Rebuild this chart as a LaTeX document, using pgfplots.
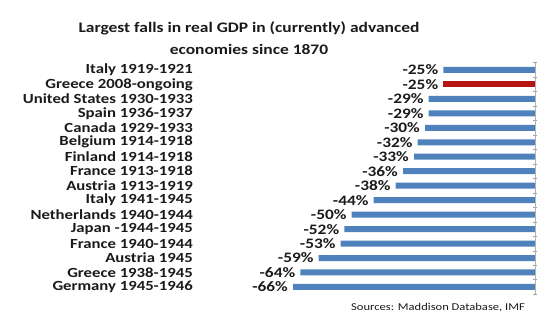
\documentclass[border=0pt]{standalone}
\usepackage{fontspec}
\setmainfont{Carlito}
\newfontfamily\catfont{Carlito}[FakeStretch=1.2]
\usepackage{pgfplots}
\pgfplotsset{compat=1.18}
\definecolor{barblue}{HTML}{4F81BD}
\definecolor{barred}{HTML}{B81414}
\definecolor{txt}{HTML}{1A1A1A}
\begin{document}
\begin{tikzpicture}
\useasboundingbox (0,0) rectangle (550bp,327bp);
\node[anchor=base,font=\catfont\bfseries\fontsize{14.6}{18}\selectfont,text=txt] at (249bp,294bp) {Largest falls in real GDP in (currently) advanced};
\node[anchor=base,font=\catfont\bfseries\fontsize{14.6}{18}\selectfont,text=txt] at (249bp,272bp) {economies since 1870};
\begin{axis}[
  at={(197bp,32.8bp)}, anchor=south west,
  scale only axis, width=338bp, height=231.5bp,
  xbar, bar width=6bp, bar shift=0pt,
  xmin=-92.2, xmax=0, ymin=-0.5, ymax=15.5,
  y dir=reverse, clip=false,
  axis line style={draw=none},
  xtick=\empty,
  ytick={0,...,15},
  yticklabels={Italy 1919-1921, Greece 2008-ongoing, United States 1930-1933, Spain 1936-1937, Canada 1929-1933, Belgium 1914-1918, Finland 1914-1918, France 1913-1918, Austria 1913-1919, Italy 1941-1945, Netherlands 1940-1944, Japan -1944-1945, France 1940-1944, Austria 1945, Greece 1938-1945, Germany 1945-1946},
  ytick pos=right,
  yticklabel pos=left,
  yticklabel style={font=\catfont\bfseries\fontsize{14}{14}\selectfont, text=txt, anchor=east, inner sep=1bp, xshift=-3bp},
  major tick length=0pt,
  minor ytick={-0.5,0.5,...,15.5},
  minor tick length=4bp,
  every minor tick/.append style={draw=gray!75, line width=0.5bp},
  tick align=center,
  point meta=x,
  nodes near coords={\pgfmathprintnumber[assume math mode=true,int detect]{\pgfplotspointmeta}\%},
  nodes near coords style={anchor=east, font=\catfont\bfseries\fontsize{14.5}{14.5}\selectfont, text=txt, xshift=-4bp, inner sep=1bp},
]
\addplot[draw=none, fill=barblue] coordinates {
 (-25,0) (-29,2) (-29,3) (-30,4) (-32,5) (-33,6) (-36,7) (-38,8)
 (-44,9) (-50,10) (-52,11) (-53,12) (-59,13) (-64,14) (-66,15)};
\addplot[draw=none, fill=barred] coordinates {(-25,1)};
\draw[gray!60, line width=0.6bp] (rel axis cs:1,0) -- (rel axis cs:1,1);
\end{axis}
\node[font=\catfont\fontsize{10.5}{12}\selectfont,text=txt] at (438bp,19bp) {Sources: Maddison Database, IMF};
\end{tikzpicture}
\end{document}
